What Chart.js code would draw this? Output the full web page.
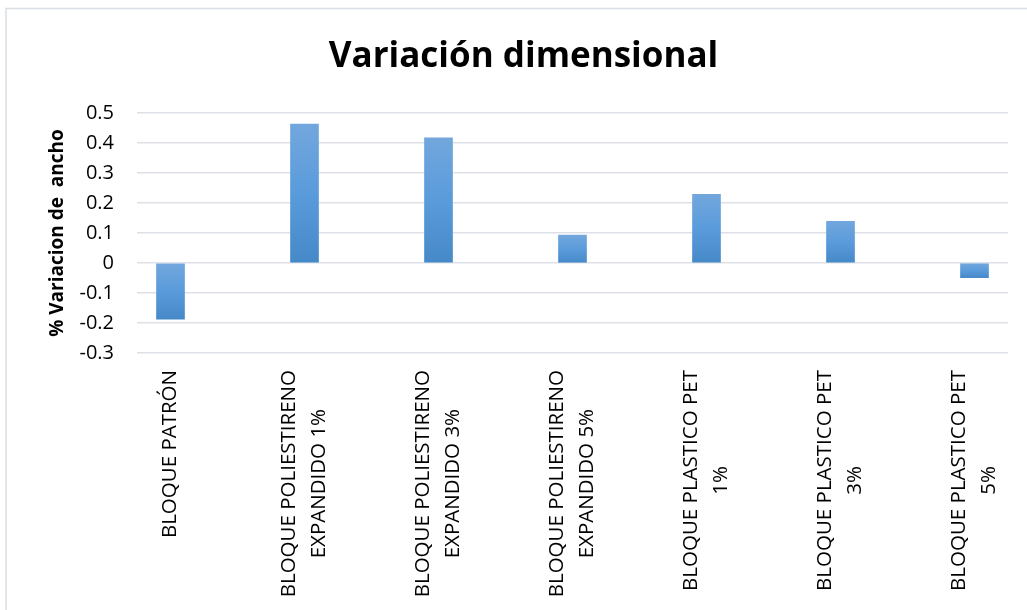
<!DOCTYPE html>
<html lang="es">
<head>
<meta charset="utf-8">
<title>Variación dimensional</title>
<script src="https://cdn.jsdelivr.net/npm/chart.js@4/dist/chart.umd.min.js"></script>
<style>
  html, body { margin: 0; padding: 0; background: #ffffff; }
  #wrap { width: 1027px; height: 610px; }
</style>
</head>
<body>
<div id="wrap"><canvas id="chart" width="1027" height="610"></canvas></div>
<script>
// Block types (each entry is one label, split into its lines)
const categories = [
  ["BLOQUE PATRÓN"],
  ["BLOQUE POLIESTIRENO", "EXPANDIDO 1%"],
  ["BLOQUE POLIESTIRENO", "EXPANDIDO 3%"],
  ["BLOQUE POLIESTIRENO", "EXPANDIDO 5%"],
  ["BLOQUE PLASTICO PET", "1%"],
  ["BLOQUE PLASTICO PET", "3%"],
  ["BLOQUE PLASTICO PET", "5%"]
];

// Width variation (%) per block
const variation = [-0.187, 0.463, 0.417, 0.093, 0.229, 0.139, -0.049];

// Value axis ticks
const yTicks = [-0.3, -0.2, -0.1, 0, 0.1, 0.2, 0.3, 0.4, 0.5];

const FONT = "'Open Sans', 'DejaVu Sans', sans-serif";

// Vertical gradient per bar: lighter at the top edge, darker at the bottom edge
function barGradient(ctx) {
  const chart = ctx.chart;
  const area = chart.chartArea;
  if (!area || ctx.type !== 'data') return '#5b9bd5';
  const y = chart.scales.y;
  const pv = y.getPixelForValue(ctx.raw.y);
  const p0 = y.getPixelForValue(0);
  const top = Math.min(pv, p0), bottom = Math.max(pv, p0);
  const g = chart.ctx.createLinearGradient(0, top, 0, bottom + 0.001);
  g.addColorStop(0, '#72a7dd');
  g.addColorStop(0.5, '#5a9bdb');
  g.addColorStop(1, '#4689c8');
  return g;
}

// White background with the thin frame on the left and top edges
const framePlugin = {
  id: 'frame',
  beforeDraw(chart) {
    const c = chart.ctx;
    c.save();
    c.fillStyle = '#ffffff';
    c.fillRect(0, 0, chart.width, chart.height);
    c.strokeStyle = '#d9dee5';
    c.lineWidth = 1.5;
    c.beginPath();
    c.moveTo(6, chart.height);
    c.lineTo(6, 8.5);
    c.lineTo(chart.width, 8.5);
    c.stroke();
    c.restore();
  }
};

// Category labels: rotated, lines centred on each other, block hung below the plot
const categoryLabels = {
  id: 'categoryLabels',
  afterDraw(chart, args, opts) {
    const c = chart.ctx;
    const xs = chart.scales.x;
    const top = chart.chartArea.bottom + opts.gap;
    c.save();
    c.font = opts.font;
    c.fillStyle = opts.color;
    c.textAlign = 'center';
    c.textBaseline = 'middle';
    categories.forEach((lines, i) => {
      const x = xs.getPixelForValue(i);
      const maxW = Math.max(...lines.map(l => c.measureText(l).width));
      c.save();
      c.translate(x, top + maxW / 2);
      c.rotate(-Math.PI / 2);
      lines.forEach((line, j) => {
        c.fillText(line, 0, (j - (lines.length - 1) / 2) * opts.lineSpacing);
      });
      c.restore();
    });
    c.restore();
  }
};

new Chart(document.getElementById('chart'), {
  type: 'bar',
  data: {
    datasets: [{
      label: '% Variacion de ancho',
      data: variation.map((v, i) => ({ x: i, y: v })),
      backgroundColor: barGradient,
      borderWidth: 0,
      barThickness: 28
    }]
  },
  options: {
    responsive: false,
    animation: false,
    devicePixelRatio: 1,
    layout: { padding: { left: 39, right: 19, top: 0, bottom: 0 } },
    plugins: {
      legend: { display: false },
      tooltip: { enabled: false },
      title: {
        display: true,
        text: 'Variación dimensional',
        color: '#000000',
        font: { family: FONT, size: 35, weight: 'bold', lineHeight: 1.2 },
        padding: { top: 36, bottom: 35 }
      },
      categoryLabels: {
        font: "20.5px " + FONT,
        color: '#000000',
        gap: 17,
        lineSpacing: 30
      }
    },
    scales: {
      x: {
        type: 'linear',
        offset: false,
        min: -0.25,
        max: 6.25,
        grid: { display: false },
        border: { display: false },
        ticks: { display: false },
        afterFit(scale) { scale.height = 257; }
      },
      y: {
        min: -0.3,
        max: 0.5,
        afterBuildTicks(scale) { scale.ticks = yTicks.map(v => ({ value: v })); },
        afterFit(scale) { scale.width = 98; },
        border: { display: false },
        grid: { color: '#dde1e7', lineWidth: 1.5, drawTicks: false },
        ticks: {
          color: '#000000',
          padding: 23,
          font: { family: FONT, size: 20 },
          callback: v => String(Math.round(v * 10) / 10)
        },
        title: {
          display: true,
          text: '% Variacion de  ancho',
          color: '#000000',
          font: { family: FONT, size: 19, weight: 'bold', lineHeight: 1.2 },
          padding: { top: 7, bottom: 0 }
        }
      }
    }
  },
  plugins: [framePlugin, categoryLabels]
});
</script>
</body>
</html>
